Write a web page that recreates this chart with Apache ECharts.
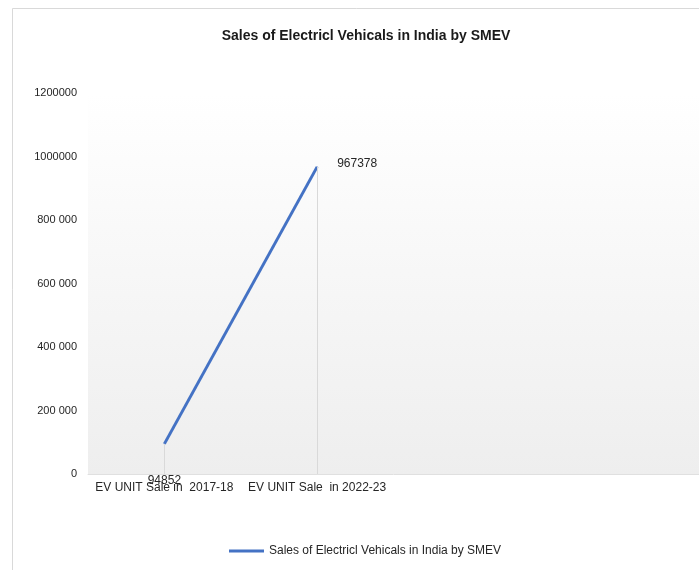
<!DOCTYPE html>
<html><head><meta charset="utf-8">
<script src="https://cdn.jsdelivr.net/npm/echarts@6/dist/echarts.min.js"></script>
<style>html,body{margin:0;padding:0;background:#fff}#c{width:699px;height:570px}</style>
</head><body><div id="c"></div>
<script>
const categories = ["EV UNIT Sale in  2017-18", "EV UNIT Sale  in 2022-23", "", ""];
const salesValues = [94852, 967378];
const seriesName = "Sales of Electricl Vehicals in India by SMEV";
const titleText = "Sales of Electricl Vehicals in India by SMEV";
const yTickLabels = {0:"0",200000:"200 000",400000:"400 000",600000:"600 000",800000:"800 000",1000000:"1000000",1200000:"1200000"};

const font = "'Liberation Sans', Arial, sans-serif";
const chart = echarts.init(document.getElementById('c'), null, {renderer:'canvas'});
const dropLines = salesValues.map((v,i)=>[{coord:[i, v]},{coord:[i, 0]}]);
chart.setOption({
  animation:false,
  backgroundColor:'#fff',
  graphic:[{type:'rect', left:10, top:6, shape:{width:720, height:600}, style:{fill:'none', stroke:'#d9d9d9', lineWidth:1}, silent:true, z:-1}],
  title:{text:titleText, left:361, textAlign:'center', top:24,
    textStyle:{fontFamily:"'Liberation Sans Narrow', 'Liberation Sans', Arial, sans-serif", fontWeight:'bold', fontSize:14, color:'#1a1a1a'}},
  legend:{bottom:8, left:224, itemWidth:35, itemHeight:3, itemGap:4,
    icon:'rect',
    textStyle:{fontFamily:font, fontSize:12, color:'#262626'},
    data:[{name:seriesName}]},
  grid:{left:88, right:-5, top:93, bottom:96,
    backgroundColor:{type:'linear', x:0, y:0, x2:0, y2:1, colorStops:[{offset:0,color:'#ffffff'},{offset:1,color:'#eeeeee'}]},
    show:true, borderWidth:0},
  xAxis:{type:'category', data:categories, boundaryGap:true,
    axisLine:{show:true, lineStyle:{color:'#e0e0e0'}}, axisTick:{show:false},
    axisLabel:{fontFamily:font, fontSize:12, color:'#262626', margin:8, interval:0},
    splitLine:{show:false}},
  yAxis:{type:'value', min:0, max:1200000, interval:200000,
    axisLine:{show:false}, axisTick:{show:false}, splitLine:{show:false},
    axisLabel:{fontFamily:font, fontSize:11, color:'#262626', margin:11,
      formatter:v=>yTickLabels[v]!==undefined?yTickLabels[v]:String(v)}},
  series:[{name:seriesName, type:'line', data:salesValues,
    symbol:'circle', symbolSize:1, showSymbol:true,
    lineStyle:{color:'#4472C4', width:3}, itemStyle:{color:'#4472C4'},
    label:{show:true, fontFamily:font, fontSize:12, color:'#262626',
      formatter:p=>String(p.value)},
    labelLayout:function(params){
      const r = params.rect;
      if(params.dataIndex===0){return {x:r.x + r.width/2, y:r.y + r.height + 36, align:'center', verticalAlign:'middle'};}
      return {x:r.x + r.width/2 + 20, y:r.y + r.height - 4, align:'left', verticalAlign:'middle'};
    },
    markLine:{silent:true, symbol:'none', label:{show:false},
      lineStyle:{color:'#d9d9d9', width:1, type:'solid'}, data:dropLines},
    z:3}]
});
</script></body></html>
